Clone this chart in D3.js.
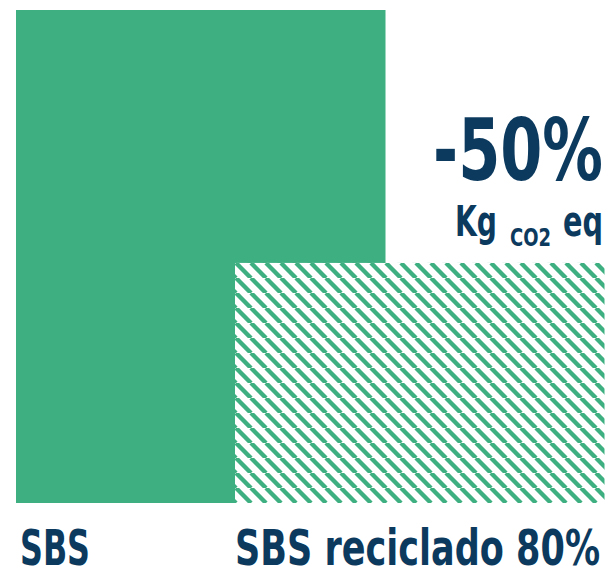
<!DOCTYPE html>
<html>
<head>
<meta charset="utf-8">
<script src="https://cdn.jsdelivr.net/npm/d3@7"></script>
<style>
  body { margin: 0; background: #fff; }
  text { font-family: "DejaVu Sans", sans-serif; font-stretch: condensed; font-weight: bold; fill: #0b3a5e; }
</style>
</head>
<body>
<div id="chart"></div>
<script>
let categories = ["SBS", "SBS reciclado 80%"];
let values = [100, 48.7];
let changeLabel = "-50%";
let unitLabel = ["Kg", "CO2", "eq"];

let width = 608, height = 568;
let green = "#3daf80";

let svg = d3.select("#chart").append("svg")
    .attr("width", width).attr("height", height);

// diagonal hatch for the recycled bar
let period = 15;
let defs = svg.append("defs");
let pat = defs.append("pattern")
    .attr("id", "hatch")
    .attr("patternUnits", "userSpaceOnUse")
    .attr("width", period).attr("height", period)
    .attr("x", 236).attr("y", 263);
pat.append("rect").attr("width", period).attr("height", period).attr("fill", "#fff");
pat.selectAll("line").data([-period, 0, period]).join("line")
    .attr("x1", d => d).attr("y1", 0)
    .attr("x2", d => d + period).attr("y2", period)
    .attr("stroke", green).attr("stroke-width", 4.4);

let yScale = d3.scaleLinear().domain([0, 100]).range([503, 10]);
let xScale = d3.scaleLinear().domain([0, 1]).range([16, 235]);
let barW = 369.5;

svg.selectAll(".bar").data(values).join("rect")
    .attr("class", "bar")
    .attr("x", (d, i) => xScale(i))
    .attr("y", d => yScale(d))
    .attr("width", barW)
    .attr("height", d => yScale(0) - yScale(d))
    .attr("fill", (d, i) => i == 0 ? green : "url(#hatch)");

let catW = [70, 365];
svg.selectAll(".cat").data(categories).join("text")
    .attr("class", "cat")
    .attr("x", (d, i) => xScale(i) + (i == 0 ? 4 : 0))
    .attr("y", 565)
    .attr("font-size", 49)
    .attr("textLength", (d, i) => catW[i])
    .attr("lengthAdjust", "spacingAndGlyphs")
    .text(d => d);

svg.append("text")
    .attr("x", 433).attr("y", 180)
    .attr("font-size", 86)
    .attr("textLength", 170)
    .attr("lengthAdjust", "spacingAndGlyphs")
    .text(changeLabel);

// unit label: Kg  CO2  eq
let unitX = [455, 510, 563];
let unitW = [42, 41, 40];
let unitY = [236, 246, 236];
let unitSize = [42, 25, 42];
svg.selectAll(".unit").data(unitLabel).join("text")
    .attr("class", "unit")
    .attr("x", (d, i) => unitX[i])
    .attr("y", (d, i) => unitY[i])
    .attr("font-size", (d, i) => unitSize[i])
    .attr("textLength", (d, i) => unitW[i])
    .attr("lengthAdjust", "spacingAndGlyphs")
    .text(d => d);
</script>
</body>
</html>
